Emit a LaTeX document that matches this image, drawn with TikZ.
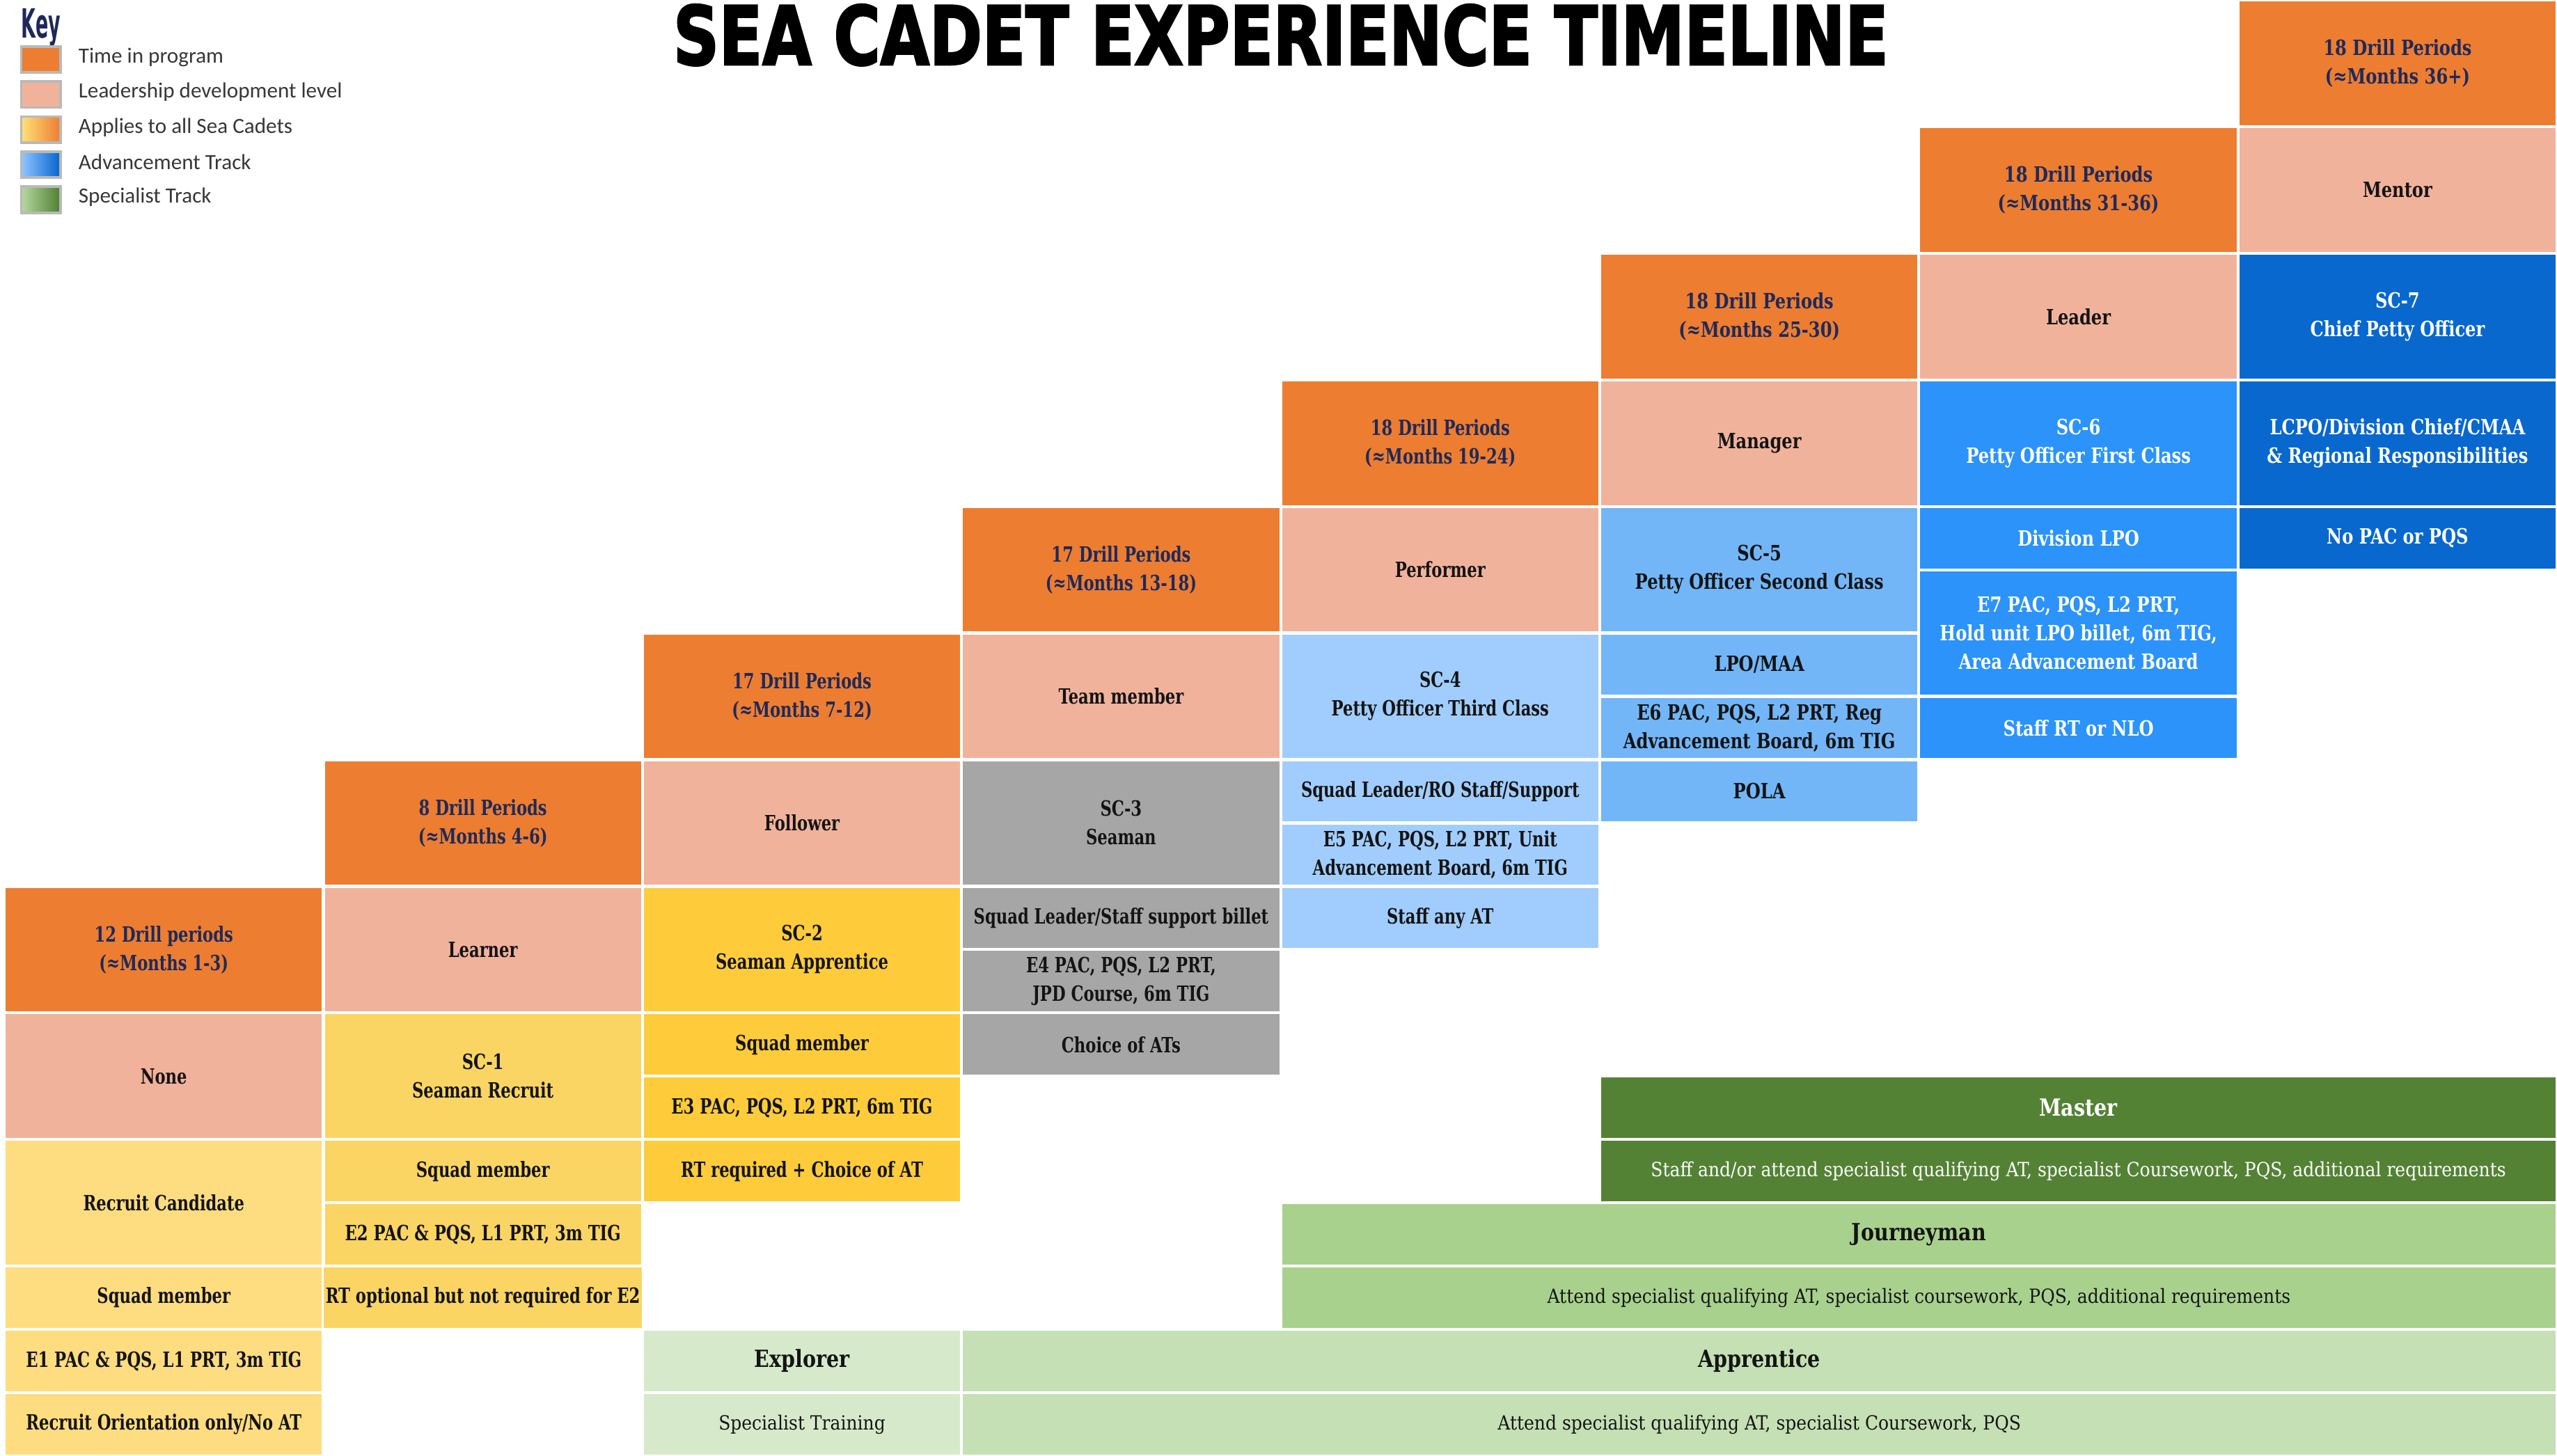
\documentclass[tikz,border=0pt]{standalone}
\usepackage{fontspec}
\usepackage{graphicx}
\setmainfont{DejaVu Serif}
\newfontfamily\cfa{DejaVu Serif}[FakeStretch=0.75]
\newfontfamily\cfb{DejaVu Serif}[FakeStretch=0.80]
\newfontfamily\cfr{DejaVu Serif}[FakeStretch=0.89]
\newfontfamily\cfh{DejaVu Serif}[FakeStretch=0.84]
\newfontfamily\keyfont{Carlito}
\newfontfamily\ttlfont{DejaVu Sans}[FakeBold=2.5]
\newfontfamily\keyhead{DejaVu Sans}

\definecolor{cOrange}{RGB}{237,125,49}
\definecolor{cPeach}{RGB}{241,178,156}
\definecolor{cYel1}{RGB}{254,220,128}
\definecolor{cYel2}{RGB}{250,213,100}
\definecolor{cYel3}{RGB}{254,204,58}
\definecolor{cGray}{RGB}{166,166,166}
\definecolor{cBlue4}{RGB}{160,205,253}
\definecolor{cBlue5}{RGB}{114,182,248}
\definecolor{cBlue6}{RGB}{43,147,250}
\definecolor{cBlue7}{RGB}{8,104,206}
\definecolor{cGrnM}{RGB}{84,130,53}
\definecolor{cGrnJ}{RGB}{169,209,142}
\definecolor{cGrnA}{RGB}{197,224,180}
\definecolor{cGrnE}{RGB}{215,233,203}
\definecolor{cNavy}{RGB}{30,42,90}
\definecolor{cInk}{RGB}{20,20,20}
\definecolor{cKeyTxt}{RGB}{55,55,55}
\definecolor{cKeyNavy}{RGB}{30,40,90}
\definecolor{cSwBorder}{RGB}{185,185,185}

\tikzset{
  cellbox/.style={draw=none, inner sep=1pt, align=center, anchor=center},
  fa/.style={font={\fontsize{12.9}{17.5}\cfa\bfseries}},
  fb/.style={font={\fontsize{12.9}{17.5}\cfb\bfseries}},
  fr/.style={font={\fontsize{12}{17}\cfr}},
  fh/.style={font={\fontsize{14.5}{17.5}\cfh\bfseries}},
  tn/.style={text=cNavy},
  tk/.style={text=cInk},
  tw/.style={text=white},
  swatch/.style={draw=cSwBorder, line width=1.6pt, minimum width=24pt, minimum height=16pt, inner sep=0pt},
  keylab/.style={anchor=west, inner sep=0pt, text=cKeyTxt, font={\fontsize{13.3}{15}\keyfont}},
}

% name, c0, c1, r0, r1, fill, style, text
\newcommand\cel[8]{%
  \node[cellbox, fill=#6, #7,
        minimum width={(195.68*(#3-#2)-1.8)*1pt},
        minimum height={(38.83*(#5-#4)-1.8)*1pt}]
        (#1) at ({2.6+195.68*(#2+#3)/2},{38.83*(#4+#5)/2}) {#8};}

\begin{document}
\begin{tikzpicture}[x=1pt,y=-1pt]
\useasboundingbox (0,0) rectangle (1568,893);

% title
\node[inner sep=0pt] (title) at (785.5,21.5)
  {\resizebox{745pt}{37pt}{\ttlfont\bfseries SEA CADET EXPERIENCE TIMELINE}};

% key
\node[inner sep=0pt, anchor=north west, text=cKeyNavy] (keyt) at (13,5)
  {\resizebox{24pt}{18pt}{\keyhead\bfseries Key}};
\node[swatch, fill=cOrange] (k1) at (25,36.5) {};
\node[swatch, fill=cPeach] (k2) at (25,58) {};
\node[swatch, left color={rgb,255:red,254;green,226;blue,122}, middle color={rgb,255:red,226;green,170;blue,0}, right color=cOrange] (k3) at (25,79.5) {};
\node[swatch, left color={rgb,255:red,145;green,198;blue,255}, right color={rgb,255:red,5;green,100;blue,205}] (k4) at (25,101) {};
\node[swatch, left color={rgb,255:red,182;green,216;blue,160}, right color={rgb,255:red,78;green,128;blue,48}] (k5) at (25,122.5) {};
\node[keylab] (k1t) at (48,35) {Time in program};
\node[keylab] (k2t) at (48,56.5) {Leadership development level};
\node[keylab] (k3t) at (48,78) {Applies to all Sea Cadets};
\node[keylab] (k4t) at (48,99.5) {Advancement Track};
\node[keylab] (k5t) at (48,121) {Specialist Track};

% column 1
\cel{c1o}{0}{1}{14}{16}{cOrange}{fa,tn}{12 Drill periods\\(≈Months 1-3)}
\cel{c1p}{0}{1}{16}{18}{cPeach}{fa,tk}{None}
\cel{c1y1}{0}{1}{18}{20}{cYel1}{fa,tk}{Recruit Candidate}
\cel{c1y2}{0}{1}{20}{21}{cYel1}{fa,tk}{Squad member}
\cel{c1y3}{0}{1}{21}{22}{cYel1}{fa,tk}{E1 PAC \& PQS, L1 PRT, 3m TIG}
\cel{c1y4}{0}{1}{22}{23}{cYel1}{fa,tk}{Recruit Orientation only/No AT}

% column 2
\cel{c2o}{1}{2}{12}{14}{cOrange}{fa,tn}{8 Drill Periods\\(≈Months 4-6)}
\cel{c2p}{1}{2}{14}{16}{cPeach}{fa,tk}{Learner}
\cel{c2y1}{1}{2}{16}{18}{cYel2}{fa,tk}{SC-1\\Seaman Recruit}
\cel{c2y2}{1}{2}{18}{19}{cYel2}{fa,tk}{Squad member}
\cel{c2y3}{1}{2}{19}{20}{cYel2}{fa,tk}{E2 PAC \& PQS, L1 PRT, 3m TIG}
\cel{c2y4}{1}{2}{20}{21}{cYel2}{fa,tk}{RT optional but not required for E2}

% column 3
\cel{c3o}{2}{3}{10}{12}{cOrange}{fa,tn}{17 Drill Periods\\(≈Months 7-12)}
\cel{c3p}{2}{3}{12}{14}{cPeach}{fa,tk}{Follower}
\cel{c3y1}{2}{3}{14}{16}{cYel3}{fa,tk}{SC-2\\Seaman Apprentice}
\cel{c3y2}{2}{3}{16}{17}{cYel3}{fa,tk}{Squad member}
\cel{c3y3}{2}{3}{17}{18}{cYel3}{fa,tk}{E3 PAC, PQS, L2 PRT, 6m TIG}
\cel{c3y4}{2}{3}{18}{19}{cYel3}{fa,tk}{RT required + Choice of AT}
\cel{c3e1}{2}{3}{21}{22}{cGrnE}{fh,tk}{Explorer}
\cel{c3e2}{2}{3}{22}{23}{cGrnE}{fr,tk}{Specialist Training}

% column 4
\cel{c4o}{3}{4}{8}{10}{cOrange}{fa,tn}{17 Drill Periods\\(≈Months 13-18)}
\cel{c4p}{3}{4}{10}{12}{cPeach}{fa,tk}{Team member}
\cel{c4g1}{3}{4}{12}{14}{cGray}{fa,tk}{SC-3\\Seaman}
\cel{c4g2}{3}{4}{14}{15}{cGray}{fa,tk}{Squad Leader/Staff support billet}
\cel{c4g3}{3}{4}{15}{16}{cGray}{fa,tk}{E4 PAC, PQS, L2 PRT,\\JPD Course, 6m TIG}
\cel{c4g4}{3}{4}{16}{17}{cGray}{fa,tk}{Choice of ATs}

% column 5
\cel{c5o}{4}{5}{6}{8}{cOrange}{fa,tn}{18 Drill Periods\\(≈Months 19-24)}
\cel{c5p}{4}{5}{8}{10}{cPeach}{fa,tk}{Performer}
\cel{c5b1}{4}{5}{10}{12}{cBlue4}{fa,tk}{SC-4\\Petty Officer Third Class}
\cel{c5b2}{4}{5}{12}{13}{cBlue4}{fa,tk}{Squad Leader/RO Staff/Support}
\cel{c5b3}{4}{5}{13}{14}{cBlue4}{fa,tk}{E5 PAC, PQS, L2 PRT, Unit\\Advancement Board, 6m TIG}
\cel{c5b4}{4}{5}{14}{15}{cBlue4}{fa,tk}{Staff any AT}

% column 6
\cel{c6o}{5}{6}{4}{6}{cOrange}{fb,tn}{18 Drill Periods\\(≈Months 25-30)}
\cel{c6p}{5}{6}{6}{8}{cPeach}{fb,tk}{Manager}
\cel{c6b1}{5}{6}{8}{10}{cBlue5}{fb,tk}{SC-5\\Petty Officer Second Class}
\cel{c6b2}{5}{6}{10}{11}{cBlue5}{fb,tk}{LPO/MAA}
\cel{c6b3}{5}{6}{11}{12}{cBlue5}{fb,tk}{E6 PAC, PQS, L2 PRT, Reg\\Advancement Board, 6m TIG}
\cel{c6b4}{5}{6}{12}{13}{cBlue5}{fb,tk}{POLA}

% column 7
\cel{c7o}{6}{7}{2}{4}{cOrange}{fb,tn}{18 Drill Periods\\(≈Months 31-36)}
\cel{c7p}{6}{7}{4}{6}{cPeach}{fb,tk}{Leader}
\cel{c7b1}{6}{7}{6}{8}{cBlue6}{fb,tw}{SC-6\\Petty Officer First Class}
\cel{c7b2}{6}{7}{8}{9}{cBlue6}{fb,tw}{Division LPO}
\cel{c7b3}{6}{7}{9}{11}{cBlue6}{fb,tw}{E7 PAC, PQS, L2 PRT,\\Hold unit LPO billet, 6m TIG,\\Area Advancement Board}
\cel{c7b4}{6}{7}{11}{12}{cBlue6}{fb,tw}{Staff RT or NLO}

% column 8
\cel{c8o}{7}{8}{0}{2}{cOrange}{fb,tn}{18 Drill Periods\\(≈Months 36+)}
\cel{c8p}{7}{8}{2}{4}{cPeach}{fb,tk}{Mentor}
\cel{c8b1}{7}{8}{4}{6}{cBlue7}{fb,tw}{SC-7\\Chief Petty Officer}
\cel{c8b2}{7}{8}{6}{8}{cBlue7}{fb,tw}{LCPO/Division Chief/CMAA\\\& Regional Responsibilities}
\cel{c8b3}{7}{8}{8}{9}{cBlue7}{fb,tw}{No PAC or PQS}

% specialist track
\cel{gM1}{5}{8}{17}{18}{cGrnM}{fh,tw}{Master}
\cel{gM2}{5}{8}{18}{19}{cGrnM}{fr,tw}{Staff and/or attend specialist qualifying AT, specialist Coursework, PQS, additional requirements}
\cel{gJ1}{4}{8}{19}{20}{cGrnJ}{fh,tk}{Journeyman}
\cel{gJ2}{4}{8}{20}{21}{cGrnJ}{fr,tk}{Attend specialist qualifying AT, specialist coursework, PQS, additional requirements}
\cel{gA1}{3}{8}{21}{22}{cGrnA}{fh,tk}{Apprentice}
\cel{gA2}{3}{8}{22}{23}{cGrnA}{fr,tk}{Attend specialist qualifying AT, specialist Coursework, PQS}
\end{tikzpicture}
\end{document}
